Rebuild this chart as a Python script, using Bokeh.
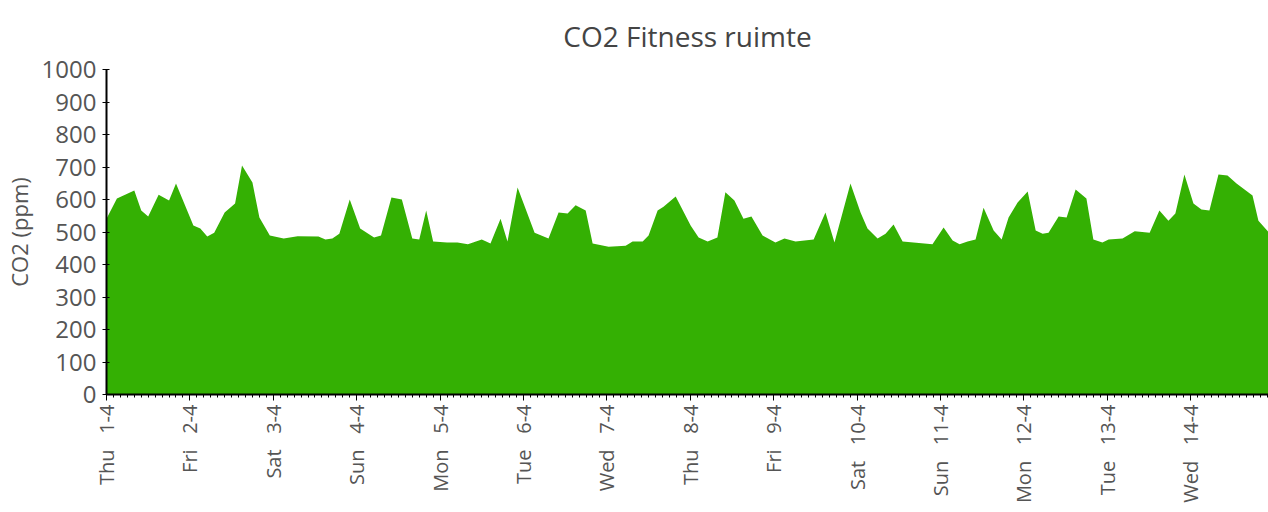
import math
from bokeh.plotting import figure
from bokeh.models import Range1d, FixedTicker
from bokeh.embed import file_html
from bokeh.resources import INLINE

# hours since Thu 1-4 00:00
hours = [0, 3, 8, 10, 12, 15, 18, 20, 25, 27, 29, 31, 34, 37, 39, 42, 44, 47, 51, 55,
         61, 63, 65, 67, 70, 73, 77, 79, 82, 85, 88, 90, 92, 94, 98, 101, 104, 108, 110.5,
         113.4, 115.4, 118.3, 123.2, 127.2, 130.1, 132.7, 135.0, 137.9, 139.9, 144.5, 149.4,
         151.4, 154.3, 156.0, 158.6, 160.3, 163.8, 168.1, 170.4, 173.0, 175.8, 178.1, 180.7,
         183.3, 185.6, 188.8, 192.5, 195.1, 198.3, 203.5, 206.9, 209.5, 214.1, 217.0, 219.0,
         221.9, 224.2, 226.5, 229.1, 237.7, 240.9, 243.5, 245.5, 247.8, 250.1, 252.4, 255.3,
         257.6, 259.6, 262.2, 265.1, 267.4, 269.4, 271.1, 274.0, 276.3, 278.9, 282.0, 284.0,
         286.6, 288.4, 292.4, 295.9, 300.2, 303.0, 305.6, 307.6, 310.2, 312.8, 315.1, 317.4,
         320.0, 322.6, 325.2, 329.8, 331.5, 334.4]
co2 = [541, 603, 628, 566, 548, 615, 597, 649, 520, 511, 486, 498, 560, 588, 705, 652, 545, 489, 480, 487,
       486, 477, 480, 495, 600, 511, 483, 489, 606, 600, 480, 477, 566, 471, 468, 468, 462, 477, 465,
       541, 471, 637, 498, 480, 560, 557, 582, 566, 465, 455, 458,
       471, 471, 489, 566, 578, 609, 520, 483, 471, 483, 622, 597,
       541, 548, 489, 468, 480, 471, 477, 560, 468, 649, 560, 511,
       480, 495, 523, 471, 462, 514, 474, 462, 471, 477, 575, 505,
       477, 545, 591, 625, 505, 495, 498, 548, 545, 631, 603, 477,
       468, 477, 480, 502, 498, 566, 535, 557, 677, 588, 569, 566,
       677, 674, 649, 612, 535, 500]

TITLE = "CO2 Fitness ruimte"
SP = "\u00a0\u00a0\u00a0"
days = ["Thu", "Fri", "Sat", "Sun", "Mon", "Tue", "Wed", "Thu", "Fri", "Sat", "Sun", "Mon", "Tue", "Wed"]
dates = ["1-4", "2-4", "3-4", "4-4", "5-4", "6-4", "7-4", "8-4", "9-4", "10-4", "11-4", "12-4", "13-4", "14-4"]
day_labels = [d + SP + t for d, t in zip(days, dates)]
day_ticks = [24 * i for i in range(len(day_labels))]
y_ticks = list(range(0, 1001, 100))

FONT = "Open Sans"
TXT = "#555555"

p = figure(width=1268, height=509, output_backend="svg", toolbar_location=None,
           x_range=Range1d(0, hours[-1]), y_range=Range1d(0, 1000),
           min_border_left=106, min_border_right=0, min_border_top=69, min_border_bottom=115)
p.title.text = TITLE
p.title.align = "center"
p.title.text_font = FONT
p.title.text_font_size = "28px"
p.title.text_font_style = "normal"
p.title.text_color = "#444444"
p.title.vertical_align = "top"
p.title.standoff = 26

p.varea(x=hours, y1=0, y2=co2, fill_color="#34b003", fill_alpha=1.0)

p.grid.visible = False
p.outline_line_color = None

p.xaxis.ticker = FixedTicker(ticks=day_ticks, minor_ticks=list(range(0, 336, 2)))
p.xaxis.major_label_overrides = {t: l for t, l in zip(day_ticks, day_labels)}
p.xaxis.major_label_orientation = math.pi / 2
p.xaxis.major_label_text_font = FONT
p.xaxis.major_label_text_font_size = "20px"
p.xaxis.major_label_text_color = TXT
p.xaxis.axis_line_color = "black"
p.xaxis.axis_line_width = 2
p.xaxis.major_tick_in = 0
p.xaxis.major_tick_out = 6
p.xaxis.minor_tick_in = 0
p.xaxis.minor_tick_out = 3
p.xaxis.major_label_standoff = 4

p.yaxis.ticker = FixedTicker(ticks=y_ticks, minor_ticks=[])
p.yaxis.axis_label = "CO2 (ppm)"
p.yaxis.axis_label_text_font = FONT
p.yaxis.axis_label_text_font_size = "22px"
p.yaxis.axis_label_text_font_style = "normal"
p.yaxis.axis_label_text_color = TXT
p.yaxis.major_label_text_font = FONT
p.yaxis.major_label_text_font_size = "24px"
p.yaxis.major_label_text_color = TXT
p.yaxis.axis_line_color = "black"
p.yaxis.axis_line_width = 2
p.yaxis.major_tick_in = 3
p.yaxis.major_tick_out = 4
p.yaxis.major_label_standoff = 6

open("out.html", "w").write(file_html(p, INLINE))
